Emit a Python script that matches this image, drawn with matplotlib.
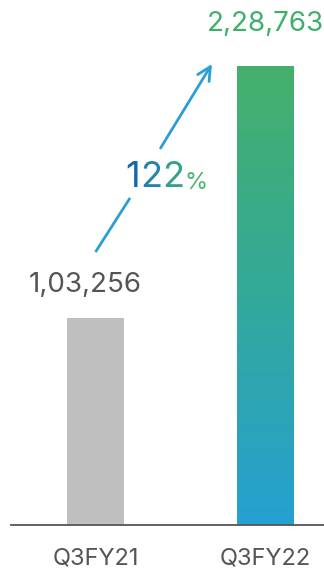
import matplotlib.pyplot as plt
import numpy as np
from matplotlib.colors import LinearSegmentedColormap

# Quarterly values
quarters = ['Q3FY21', 'Q3FY22']
values = [103256, 228763]
value_labels = ['1,03,256', '2,28,763']
growth_label = '122'

plt.rcParams['font.family'] = ['Inter', 'DejaVu Sans']

fig = plt.figure(figsize=(3.24, 5.70), dpi=100)
ax = fig.add_axes([11 / 324, 1 - 525 / 570, 1 - 11 / 324, 525 / 570])

x = np.arange(len(quarters))
width = 0.335
ax.set_xlim(-0.497, 1.344)
ax.set_ylim(0, values[1] * 525 / 459)

# First bar: plain grey
ax.bar(x[0], values[0], width, color='#bfbfbf', zorder=2)

# Second bar: green-to-blue vertical gradient
bar2 = ax.bar(x[1], values[1], width, color='none', zorder=2)[0]
cmap = LinearSegmentedColormap.from_list('gb', ['#25a0d2', '#33a99a', '#45b06a'])
grad = np.linspace(0, 1, 256).reshape(-1, 1)
img = ax.imshow(grad, cmap=cmap, origin='lower', aspect='auto',
                extent=[x[1] - width / 2, x[1] + width / 2, 0, values[1]], zorder=2)
img.set_clip_path(bar2)

# Value labels
ax.text(x[0] - 0.06, values[0] + 10000, value_labels[0], ha='center', va='bottom',
        fontsize=20, color='#555555')
ax.text(x[1], values[1] + 14500, value_labels[1], ha='center', va='bottom',
        fontsize=20, color='#3daf6b')

# Growth arrow, broken around the percentage label
arrow_col = '#2a9fd6'
ax.plot([0.0, 0.203], [136060, 163000], color=arrow_col, lw=2, solid_capstyle='butt', zorder=3)
ax.annotate('', xy=(0.685, 229760), xytext=(0.383, 187900),
            arrowprops=dict(arrowstyle='->', color=arrow_col, lw=2,
                            mutation_scale=24, shrinkA=0, shrinkB=0), zorder=3)

# Percentage label with per-character colour shift
chars = list(growth_label) + ['%']
colors = ['#1767ad', '#2583ab', '#34a18a', '#4cb570']
sizes = [26, 26, 26, 17]
t = ax.text(0.175, 168500, chars[0], color=colors[0], fontsize=sizes[0],
            ha='left', va='baseline')
for ch, col, sz in zip(chars[1:], colors[1:], sizes[1:]):
    t = ax.annotate(ch, xycoords=t, xy=(1, 0), va='bottom', ha='left',
                    color=col, fontsize=sz)

# Axes styling
for side in ['top', 'right', 'left']:
    ax.spines[side].set_visible(False)
ax.spines['bottom'].set_color('#555555')
ax.spines['bottom'].set_linewidth(1.3)
ax.set_yticks([])
ax.set_xticks(x)
ax.set_xticklabels(quarters, fontsize=17, color='#555555')
ax.tick_params(axis='x', length=0, pad=16)

fig.savefig('out.png', dpi=100)
